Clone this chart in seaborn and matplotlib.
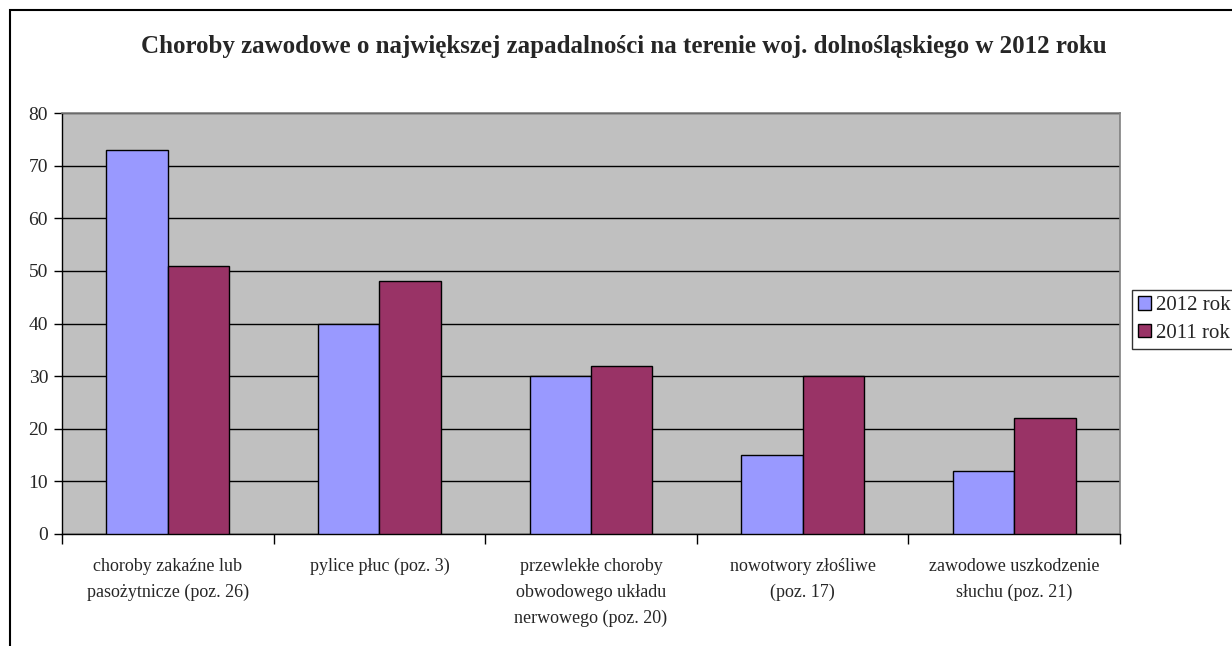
import pandas as pd
import matplotlib.pyplot as plt
import matplotlib.patches as mpatches
import seaborn as sns

# dane
kategorie = ['choroby zakaźne lub\npasożytnicze (poz. 26)',
             'pylice płuc (poz. 3)',
             'przewlekłe choroby\nobwodowego układu\nnerwowego (poz. 20)',
             'nowotwory złośliwe\n(poz. 17)',
             'zawodowe uszkodzenie\nsłuchu (poz. 21)']
lata = ['2012 rok', '2011 rok']
wartosci_2012 = [73, 40, 30, 15, 12]
wartosci_2011 = [51, 48, 32, 30, 22]

df = pd.DataFrame({
    'kategoria': kategorie * 2,
    'rok': [lata[0]] * 5 + [lata[1]] * 5,
    'wartosc': wartosci_2012 + wartosci_2011,
})

sns.set_style('white')
plt.rcParams['font.family'] = ['Liberation Serif', 'DejaVu Serif']

W, H = 1232, 646
fig = plt.figure(figsize=(W / 100, H / 100), dpi=100)
ax = fig.add_axes([62 / W, 1 - 534 / H, (1120 - 62) / W, (534 - 113) / H])
ax.set_facecolor('#C0C0C0')

kolory = {'2012 rok': '#9999FF', '2011 rok': '#993366'}
sns.barplot(data=df, x='kategoria', y='wartosc', hue='rok', palette=kolory,
            width=0.58, edgecolor='black', linewidth=1, saturation=1,
            legend=False, ax=ax, zorder=3)

ax.set_ylim(0, 80)
ax.set_xlim(-0.5, 4.5)
ax.set_yticks(range(0, 81, 10))
ax.yaxis.grid(True, color='black', linewidth=1, zorder=0)
ax.set_axisbelow(True)
ax.set_xlabel('')
ax.set_ylabel('')

# podziałki na osi X między kategoriami
ax.set_xticks([i - 0.5 for i in range(6)], minor=True)
ax.tick_params(axis='x', which='minor', length=7, width=1, color='black', direction='out', bottom=True)
ax.tick_params(axis='x', which='major', length=0, pad=17, labelsize=13)
ax.tick_params(axis='y', length=6, width=1, color='black', direction='out', left=True, labelsize=14, pad=4)
for lab in ax.get_xticklabels():
    lab.set_linespacing(1.7)
    lab.set_verticalalignment('top')

for s in ['left', 'bottom']:
    ax.spines[s].set_color('black')
    ax.spines[s].set_linewidth(1)
for s in ['top', 'right']:
    ax.spines[s].set_color('#808080')
    ax.spines[s].set_linewidth(1.2)

fig.suptitle('Choroby zawodowe o największej zapadalności na terenie woj. dolnośląskiego w 2012 roku',
             x=624 / W, y=1 - 47 / H, va='center', fontsize=18, fontweight='bold')

uchwyty = [mpatches.Patch(facecolor=kolory[r], edgecolor='black', label=r) for r in lata]
leg = fig.legend(handles=uchwyty, loc='upper left', bbox_to_anchor=(1132 / W, 1 - 290 / H),
                 frameon=True, fancybox=False, fontsize=15, handlelength=0.6, handleheight=0.6,
                 handletextpad=0.25, borderpad=0.3, labelspacing=0.4, borderaxespad=0)
leg.get_frame().set_edgecolor('black')
leg.get_frame().set_linewidth(1)

# ramka wykresu
fig.add_artist(mpatches.Rectangle((10 / W, -0.05), 1.1, 1 - 10 / H + 0.05,
                                  transform=fig.transFigure, fill=False,
                                  edgecolor='black', linewidth=1.5))

fig.savefig('out.png', dpi=100)
